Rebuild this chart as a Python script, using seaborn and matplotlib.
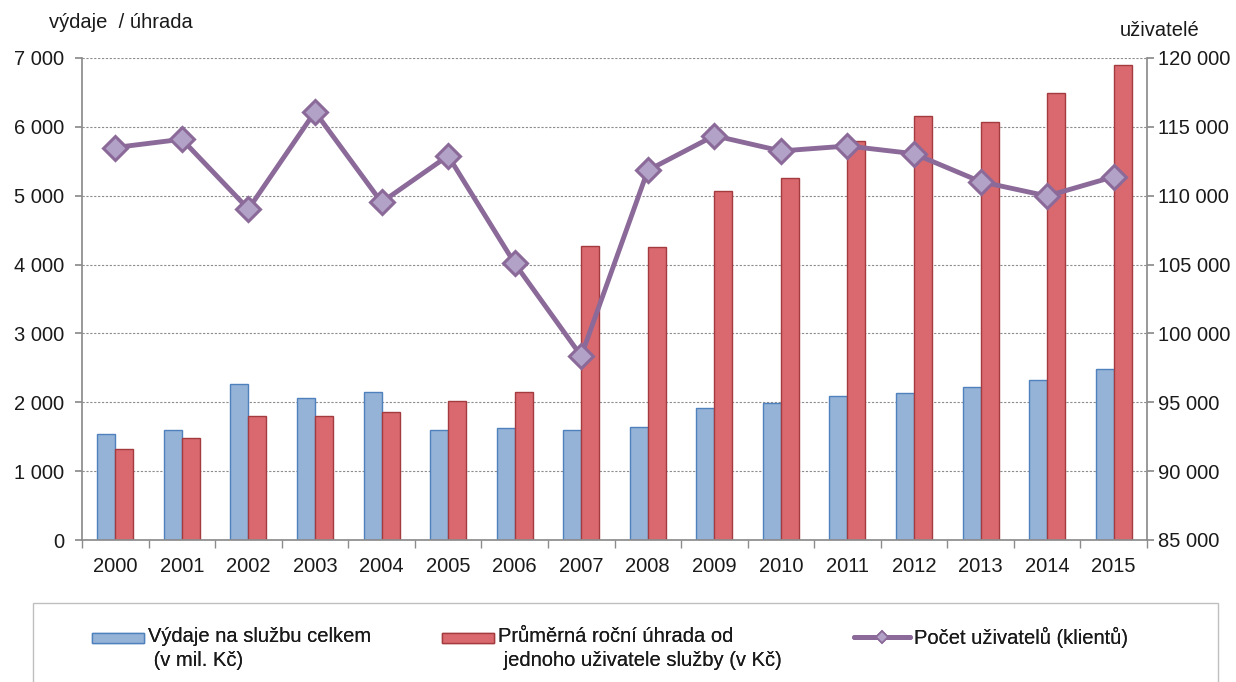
import numpy as np
import pandas as pd
import matplotlib
matplotlib.use("Agg")
import matplotlib.pyplot as plt
from matplotlib.ticker import FuncFormatter, FixedLocator
from matplotlib.patches import Patch, Rectangle
from matplotlib.lines import Line2D
from matplotlib.legend_handler import HandlerPatch
import seaborn as sns

years = ["2000", "2001", "2002", "2003", "2004", "2005", "2006", "2007",
         "2008", "2009", "2010", "2011", "2012", "2013", "2014", "2015"]
vydaje = [1540, 1597, 2265, 2057, 2154, 1597, 1631, 1597,
          1646, 1912, 1985, 2096, 2135, 2227, 2319, 2488]
uhrada = [1317, 1486, 1801, 1801, 1854, 2023, 2154, 4270,
          4250, 5068, 5262, 5794, 6162, 6075, 6487, 6898]
uzivatele = [113500, 114100, 109030, 116100, 109520, 112900, 105090, 98360,
             111840, 114360, 113250, 113610, 113050, 111020, 109980, 111380]

lab_v = "Výdaje na službu celkem\n (v mil. Kč)"
lab_u = "Průměrná roční úhrada od\n jednoho uživatele služby (v Kč)"
lab_k = "Počet uživatelů (klientů)"

sns.set_theme(style="white")
plt.rcParams['font.family'] = ['Liberation Sans', 'DejaVu Sans']
FS = 14.5
plt.rcParams['font.size'] = FS
TXT = "#1a1a1a"

df = pd.DataFrame({
    "rok": years * 2,
    "hodnota": vydaje + uhrada,
    "serie": [lab_v] * len(years) + [lab_u] * len(years),
})

fig = plt.figure(figsize=(12.36, 6.82), dpi=100)
ax = fig.add_axes([82 / 1236, 1 - 540 / 682, (1147 - 82) / 1236, (540 - 58) / 682])

fills = {lab_v: "#95B3D7", lab_u: "#D9696F"}
edges = ["#4F81BD", "#A33B3F"]
sns.barplot(data=df, x="rok", y="hodnota", hue="serie", palette=fills,
            width=0.54, ax=ax, legend=False, linewidth=1.0, saturation=1)
n = len(years)
for i, p in enumerate(ax.patches[:2 * n]):
    p.set_edgecolor(edges[0] if i < n else edges[1])

ax.set_xlim(-0.5, n - 0.5)
ax.set_ylim(0, 7000)
ax.set_yticks(np.arange(0, 7001, 1000))
fmt = FuncFormatter(lambda v, p: f"{int(v):,}".replace(",", " "))
ax.yaxis.set_major_formatter(fmt)
ax.set_xlabel("")
ax.set_ylabel("")
ax.yaxis.grid(True, linestyle=(0, (2, 1.5)), color="#8C8C8C", linewidth=0.8)
ax.set_axisbelow(True)
for s in ["top", "right"]:
    ax.spines[s].set_visible(False)
for s in ["left", "bottom"]:
    ax.spines[s].set_color("#8C8C8C")
ax.tick_params(axis="y", which="major", length=5, color="#8C8C8C", direction="out",
               left=True, labelsize=FS, labelcolor=TXT, pad=8)
ax.tick_params(axis="x", which="major", length=0, labelsize=FS, labelcolor=TXT, pad=12)
ax.xaxis.set_minor_locator(FixedLocator(np.arange(-0.5, n, 1.0)))
ax.tick_params(axis="x", which="minor", length=6, color="#8C8C8C", direction="out", bottom=True)

ax2 = ax.twinx()
sns.lineplot(x=np.arange(n), y=uzivatele, ax=ax2, color="#8B6A99", linewidth=3.5,
             marker="D", markersize=12, markerfacecolor="#B3A2C7",
             markeredgecolor="#8B6A99", markeredgewidth=2.2, legend=False)
ax2.set_ylim(85000, 120000)
ax2.set_yticks(np.arange(85000, 120001, 5000))
ax2.yaxis.set_major_formatter(fmt)
ax2.set_xlim(-0.5, n - 0.5)
for s in ["top", "left", "bottom"]:
    ax2.spines[s].set_visible(False)
ax2.spines["right"].set_color("#8C8C8C")
ax2.tick_params(axis="y", length=5, color="#8C8C8C", direction="out", right=True,
                labelsize=FS, labelcolor=TXT, pad=3)
ax2.grid(False)

fig.text(49 / 1236, 1 - 23 / 682, "výdaje  / úhrada", fontsize=FS, ha="left", va="center", color=TXT)
fig.text(1120 / 1236, 1 - 30 / 682, "uživatelé", fontsize=FS, ha="left", va="center", color=TXT)

# legend frame
fig.patches.append(Rectangle((33 / 1236, -0.05), (1218 - 33) / 1236, 1 - 603 / 682 + 0.05,
                             transform=fig.transFigure, fill=False, edgecolor="#BFBFBF",
                             linewidth=1.0))

LS = 1.36


def top_patch(legend, orig_handle, xdescent, ydescent, width, height, fontsize):
    h = 0.5 * fontsize
    y0 = (LS - 0.72) * fontsize
    return Rectangle((-xdescent, y0), width, h)


entries = [
    (Patch(facecolor="#95B3D7", edgecolor="#4F81BD", label=lab_v), 92),
    (Patch(facecolor="#D9696F", edgecolor="#A33B3F", label=lab_u), 442),
    (Line2D([0], [0], color="#8B6A99", linewidth=3.5, marker="D", markersize=6,
            markerfacecolor="#B3A2C7", markeredgecolor="#8B6A99", markeredgewidth=1.2,
            label=lab_k), 854),
]
for h, x0 in entries:
    is_patch = isinstance(h, Patch)
    leg = fig.legend(handles=[h], loc="upper left",
                     bbox_to_anchor=(x0 / 1236, 1 - 627 / 682),
                     frameon=False, fontsize=FS,
                     handlelength=(52 if is_patch else 56) / (FS * 100 / 72),
                     handleheight=0.7, handletextpad=0.2,
                     borderpad=0, borderaxespad=0, labelcolor=TXT,
                     handler_map={Patch: HandlerPatch(patch_func=top_patch)})
    for t in leg.get_texts():
        t.set_linespacing(LS)
    fig.add_artist(leg)

fig.savefig("out.png", dpi=100)
